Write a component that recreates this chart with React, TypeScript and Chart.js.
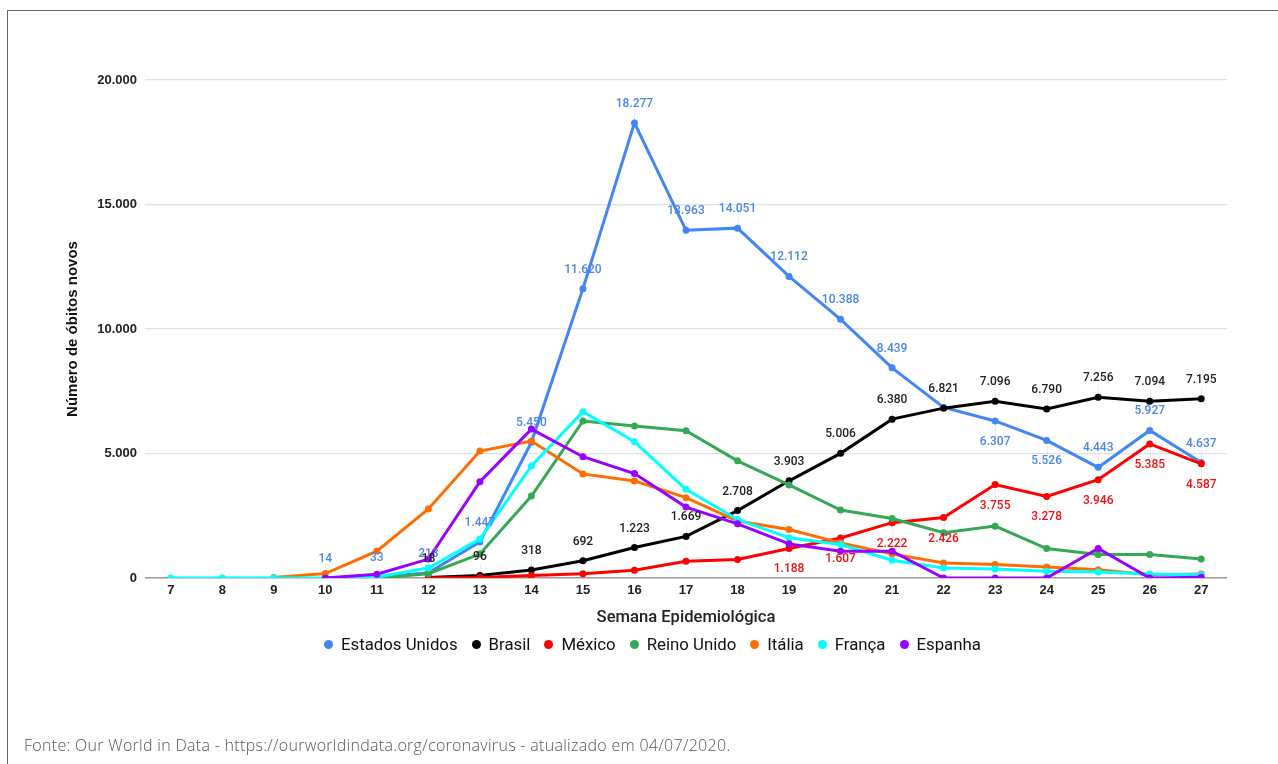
import React, { useEffect, useRef } from "react";
import { Chart, registerables } from "chart.js";

Chart.register(...registerables);

const WEEKS = [7, 8, 9, 10, 11, 12, 13, 14, 15, 16, 17, 18, 19, 20, 21, 22, 23, 24, 25, 26, 27];

const SERIES_NAMES = ["Estados Unidos", "Brasil", "México", "Reino Unido", "Itália", "França", "Espanha"];
const SERIES_COLORS = ["#4285F4", "#000000", "#FF0000", "#34A853", "#FF6D01", "#00FFFF", "#9900FF"];

const estadosUnidos = [null, null, null, 14, 33, 213, 1447, 5450, 11620, 18277, 13963, 14051, 12112, 10388, 8439, 6850, 6307, 5526, 4443, 5927, 4637];
const brasil = [null, null, null, null, null, 18, 96, 318, 692, 1223, 1669, 2708, 3903, 5006, 6380, 6821, 7096, 6790, 7256, 7094, 7195];
const mexico = [null, null, null, null, null, 4, 20, 100, 170, 310, 672, 740, 1188, 1607, 2222, 2426, 3755, 3278, 3946, 5385, 4587];
const reinoUnido = [null, null, null, null, 2, 170, 960, 3290, 6305, 6100, 5914, 4704, 3737, 2728, 2392, 1815, 2083, 1183, 941, 941, 766];
const italia = [null, null, 20, 180, 1080, 2770, 5100, 5500, 4180, 3898, 3226, 2285, 1949, 1411, 968, 605, 538, 444, 336, 134, 161];
const franca = [0, 0, 0, 5, 40, 400, 1560, 4500, 6680, 5470, 3562, 2352, 1613, 1344, 712, 403, 363, 269, 242, 161, 134];
const espanha = [null, null, null, 0, 150, 760, 3870, 5980, 4870, 4194, 2849, 2177, 1371, 1075, 1075, 0, 0, 0, 1183, 0, 30];

const SERIES_DATA = [estadosUnidos, brasil, mexico, reinoUnido, italia, franca, espanha];

const Y_TICKS = [0, 5000, 10000, 15000, 20000];

// data label rules: series index, label colour, first labelled week, weeks placed below, weeks skipped
const US_BELOW_WEEKS = [23, 24];
const US_SKIP_WEEKS = [22];
const LABEL_RULES = [
  { series: 0, color: "#4a86e8", fromWeek: 10, allBelow: false, belowWeeks: US_BELOW_WEEKS, skipWeeks: US_SKIP_WEEKS },
  { series: 1, color: "#222222", fromWeek: 12, allBelow: false, belowWeeks: [], skipWeeks: [] },
  { series: 2, color: "#ee1111", fromWeek: 19, allBelow: true, belowWeeks: [], skipWeeks: [] },
];

function fmt(v: number): string {
  const s = Math.round(v).toString();
  return s.replace(/\B(?=(\d{3})+(?!\d))/g, ".");
}

function labelPos(rule: any, week: number, y: number) {
  const below = rule.allBelow || rule.belowWeeks.includes(week);
  return { below, ly: below ? y + 21 : y - 19 };
}

const pointLabelsPlugin = {
  id: "pointLabels",
  beforeDatasetsDraw(chart: any) {
    const ctx = chart.ctx;
    ctx.save();
    ctx.strokeStyle = "rgba(0,0,0,0.07)";
    ctx.lineWidth = 1;
    LABEL_RULES.forEach((rule) => {
      const meta = chart.getDatasetMeta(rule.series);
      const data = chart.data.datasets[rule.series].data;
      meta.data.forEach((pt: any, i: number) => {
        const v = data[i];
        const week = WEEKS[i];
        if (v == null || week < rule.fromWeek || rule.skipWeeks.includes(week)) return;
        const { below, ly } = labelPos(rule, week, pt.y);
        ctx.beginPath();
        ctx.moveTo(Math.round(pt.x) + 0.5, below ? ly - 7 : ly + 7);
        ctx.lineTo(Math.round(pt.x) + 0.5, pt.y);
        ctx.stroke();
      });
    });
    ctx.restore();
  },
  afterDatasetsDraw(chart: any) {
    const ctx = chart.ctx;
    ctx.save();
    ctx.font = "500 12px Roboto";
    ctx.textAlign = "center";
    ctx.textBaseline = "middle";
    LABEL_RULES.forEach((rule) => {
      const meta = chart.getDatasetMeta(rule.series);
      const data = chart.data.datasets[rule.series].data;
      ctx.fillStyle = rule.color;
      meta.data.forEach((pt: any, i: number) => {
        const v = data[i];
        const week = WEEKS[i];
        if (v == null || week < rule.fromWeek || rule.skipWeeks.includes(week)) return;
        const { ly } = labelPos(rule, week, pt.y);
        ctx.fillText(fmt(v as number), pt.x, ly);
      });
    });
    ctx.restore();
  },
};

export default function App() {
  const canvasRef = useRef<HTMLCanvasElement | null>(null);

  useEffect(() => {
    if (!canvasRef.current) return;
    const n = SERIES_NAMES.length;
    const chart = new Chart(canvasRef.current, {
      type: "line",
      data: {
        labels: WEEKS.map(String),
        datasets: SERIES_NAMES.map((name, i) => ({
          label: name,
          data: SERIES_DATA[i],
          borderColor: SERIES_COLORS[i],
          backgroundColor: SERIES_COLORS[i],
          pointBackgroundColor: SERIES_COLORS[i],
          pointBorderColor: SERIES_COLORS[i],
          borderWidth: 3,
          pointRadius: 3.5,
          pointBorderWidth: 0,
          tension: 0,
          spanGaps: false,
          order: n - i,
          fill: false,
        })),
      },
      options: {
        responsive: false,
        animation: false,
        events: [],
        layout: { padding: { left: 0, top: 80, right: 51, bottom: 136 } },
        plugins: {
          legend: { display: false },
          tooltip: { enabled: false },
        },
        scales: {
          x: {
            type: "category",
            offset: true,
            grid: { display: false, drawTicks: false },
            border: { display: false },
            ticks: {
              padding: 5,
              color: "#222",
              font: { family: "'Liberation Sans', Arial", size: 13, weight: "bold" },
              maxRotation: 0,
              autoSkip: false,
            },
            title: {
              display: true,
              text: "Semana Epidemiológica",
              color: "#222",
              font: { family: "Roboto", size: 16.6, weight: "500" },
              padding: { top: 0, bottom: 0 },
            },
            afterFit: (s: any) => {
              s.height = 50;
            },
          },
          y: {
            min: 0,
            max: 20000,
            afterBuildTicks: (s: any) => {
              s.ticks = Y_TICKS.map((v) => ({ value: v }));
            },
            grid: {
              drawTicks: false,
              color: (c: any) => (c.tick && c.tick.value === 0 ? "#9a9a9a" : "#e0e0e0"),
              lineWidth: (c: any) => (c.tick && c.tick.value === 0 ? 1.5 : 1.2),
            },
            border: { display: false },
            ticks: {
              padding: 8,
              color: "#222",
              font: { family: "'Liberation Sans', Arial", size: 13, weight: "bold" },
              callback: (v: any) => fmt(Number(v)),
            },
            title: {
              display: true,
              text: "Número de óbitos novos",
              color: "#111",
              font: { family: "'Liberation Sans', Arial", size: 15, weight: "bold" },
              padding: { top: 64, bottom: 0 },
            },
            afterFit: (s: any) => {
              s.width = 145;
            },
          },
        },
      },
      plugins: [pointLabelsPlugin],
    } as any);
    return () => chart.destroy();
  }, []);

  return (
    <div
      style={{
        position: "fixed",
        left: 0,
        top: 0,
        width: 1278,
        height: 764,
        overflow: "hidden",
        background: "#fff",
      }}
    >
      <div
        style={{
          position: "absolute",
          left: 7,
          top: 10,
          width: 1400,
          height: 900,
          borderLeft: "1px solid #666",
          borderTop: "1px solid #666",
          boxSizing: "border-box",
        }}
      />
      <canvas ref={canvasRef} width={1278} height={764} style={{ position: "absolute", left: 0, top: 0 }} />
      <div
        style={{
          position: "absolute",
          left: 324,
          top: 633,
          height: 22,
          display: "flex",
          alignItems: "center",
          fontFamily: "Roboto",
          fontSize: 16.8,
          color: "#111",
          whiteSpace: "nowrap",
        }}
      >
        {SERIES_NAMES.map((name, i) => (
          <div key={name} style={{ display: "flex", alignItems: "center", marginRight: 14 }}>
            <span
              style={{
                display: "inline-block",
                width: 9,
                height: 9,
                borderRadius: "50%",
                background: SERIES_COLORS[i],
                marginRight: 8,
              }}
            />
            <span>{name}</span>
          </div>
        ))}
      </div>
      <div
        style={{
          position: "absolute",
          left: 24,
          top: 734,
          fontFamily: "'Open Sans'",
          fontWeight: 300,
          fontSize: 16,
          letterSpacing: 0.3,
          color: "#555",
          whiteSpace: "nowrap",
        }}
      >
        Fonte: Our World in Data - https://ourworldindata.org/coronavirus - atualizado em 04/07/2020.
      </div>
    </div>
  );
}
